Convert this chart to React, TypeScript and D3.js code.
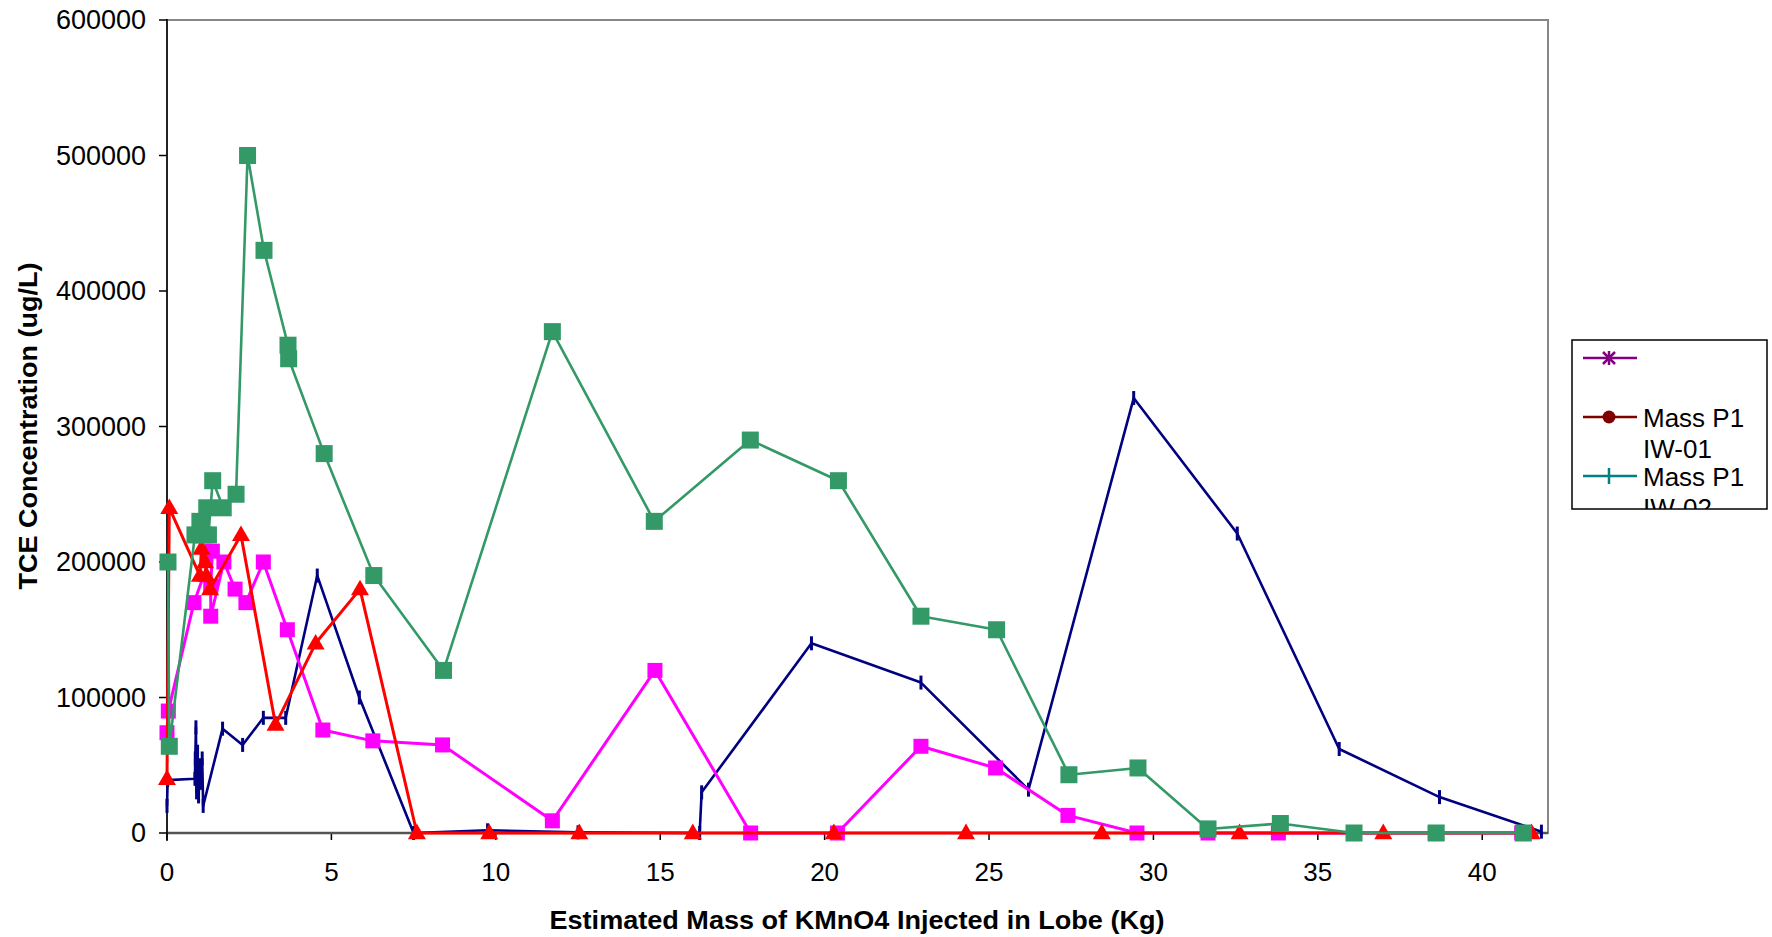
import React from "react";
import * as d3 from "d3";

// ---- data ----
const xTicks = [0, 5, 10, 15, 20, 25, 30, 35, 40];
const yTicks = [0, 100000, 200000, 300000, 400000, 500000, 600000];

const navyX = [0, 0.02, 0.85, 0.86, 0.88, 0.9, 0.93, 0.96, 1.0, 1.04, 1.07, 1.1, 1.69, 2.3, 2.93, 3.61, 4.57, 5.85, 7.5, 9.75, 12.5, 16.2, 16.26, 19.6, 22.93, 26.2, 29.4, 32.55, 35.65, 38.7, 41.8];
const navyY = [20000, 39000, 40000, 55000, 78000, 30000, 60000, 27000, 50000, 37000, 55000, 20000, 77000, 65000, 85000, 85000, 190000, 100000, 0, 2000, 500, 0, 30000, 140000, 111000, 32000, 321000, 221000, 62000, 26500, 1000];

const magX = [0, 0.04, 0.82, 1.38, 1.33, 1.33, 1.73, 2.07, 2.4, 2.93, 3.66, 4.74, 6.26, 8.38, 11.72, 14.84, 17.75, 20.39, 22.93, 25.2, 27.4, 29.5, 31.66, 33.8, 36.1, 38.57, 41.2];
const magY = [74000, 90000, 170000, 208000, 182000, 160000, 200000, 180000, 170000, 200000, 150000, 76000, 68000, 65000, 9000, 120000, 0, 0, 64000, 48000, 13000, 0, 0, 0, 0, 0, 0];

const redX = [0, 0.07, 1.0, 1.05, 1.16, 1.2, 1.31, 2.25, 3.3, 4.52, 5.87, 7.6, 9.8, 12.54, 15.99, 20.28, 24.3, 28.43, 32.62, 36.99, 41.5];
const redY = [40000, 240000, 190000, 210000, 200000, 190000, 180000, 220000, 80000, 140000, 180000, 0, 0, 0, 0, 0, 0, 0, 0, 0, 0];

const greenX = [0.03, 0.07, 0.85, 1.0, 1.1, 1.21, 1.26, 1.39, 1.71, 2.1, 2.45, 2.95, 3.68, 3.7, 4.78, 6.29, 8.41, 11.72, 14.82, 17.74, 20.42, 22.93, 25.23, 27.43, 29.53, 31.66, 33.86, 36.1, 38.6, 41.25];
const greenY = [200000, 64000, 220000, 230000, 220000, 240000, 220000, 260000, 240000, 250000, 500000, 430000, 360000, 350000, 280000, 190000, 120000, 370000, 230000, 290000, 260000, 160000, 150000, 43000, 48000, 3000, 7000, 0, 0, 0];

const legendLabels = ["", "Mass P1 IW-01", "Mass P1 IW-02"];

const FONT = "'Liberation Sans', Arial, Helvetica, sans-serif";

export default function App() {
  const W = 1772, H = 937;
  const left = 167, right = 1548, top = 20, bottom = 833;
  const x = d3.scaleLinear().domain([0, 42]).range([left, right]);
  const y = d3.scaleLinear().domain([0, 600000]).range([bottom, top]);

  const mk = (xs: number[], ys: number[]) => xs.map((v, i) => [v, ys[i]] as [number, number]);
  const line = d3.line<[number, number]>().x(d => x(d[0])).y(d => y(d[1]));

  const navy = mk(navyX, navyY);
  const mag = mk(magX, magY);
  const red = mk(redX, redY);
  const green = mk(greenX, greenY);

  const tri = d3.symbol().type(d3.symbolTriangle).size(140)();

  return (
    <svg width={W} height={H} style={{ position: "absolute", left: 0, top: 0, background: "#fff" }} fontFamily={FONT}>
      <rect x={0} y={0} width={W} height={H} fill="#fff" />
      {/* plot border */}
      <rect x={left} y={top} width={right - left} height={bottom - top} fill="#fff" stroke="#888" strokeWidth={2} />

      {/* y ticks */}
      {yTicks.map(t => (
        <g key={"y" + t}>
          <line x1={left - 8} x2={left} y1={y(t)} y2={y(t)} stroke="#000" strokeWidth={1.5} />
          <text x={146} y={y(t)} dy="0.35em" textAnchor="end" fontSize={27} fill="#000">{t}</text>
        </g>
      ))}
      {/* x ticks */}
      {xTicks.map(t => (
        <g key={"x" + t}>
          <line x1={x(t)} x2={x(t)} y1={bottom} y2={bottom + 7} stroke="#000" strokeWidth={1.5} />
          <text x={x(t)} y={881} textAnchor="middle" fontSize={26} fill="#000">{t}</text>
        </g>
      ))}

      {/* axes */}
      <line x1={left} x2={right} y1={bottom} y2={bottom} stroke="#555" strokeWidth={2.5} />
      <line x1={left} x2={left} y1={top - 1} y2={bottom + 8} stroke="#000" strokeWidth={1.5} />

      {/* navy series */}
      <path d={line(navy) || ""} fill="none" stroke="#000080" strokeWidth={2.6} strokeLinejoin="round" />
      {navy.map((d, i) => (
        <line key={"n" + i} x1={x(d[0])} x2={x(d[0])} y1={y(d[1]) - 7} y2={y(d[1]) + 7} stroke="#000080" strokeWidth={3} />
      ))}

      {/* magenta series */}
      <path d={line(mag) || ""} fill="none" stroke="#FF00FF" strokeWidth={3} strokeLinejoin="round" />
      {mag.map((d, i) => (
        <rect key={"m" + i} x={x(d[0]) - 7.5} y={y(d[1]) - 7.5} width={15} height={15} fill="#FF00FF" />
      ))}

      {/* red series */}
      <path d={line(red) || ""} fill="none" stroke="#FF0000" strokeWidth={3} strokeLinejoin="round" />
      {red.map((d, i) => (
        <path key={"r" + i} d={tri || ""} transform={`translate(${x(d[0])},${y(d[1]) + 1})`} fill="#FF0000" />
      ))}

      {/* green series */}
      <path d={line(green) || ""} fill="none" stroke="#339966" strokeWidth={2.6} strokeLinejoin="round" />
      {green.map((d, i) => (
        <rect key={"g" + i} x={x(d[0]) - 8.5} y={y(d[1]) - 8.5} width={17} height={17} fill="#339966" />
      ))}

      {/* axis titles */}
      <text x={857} y={929} textAnchor="middle" fontSize={25} fontWeight="bold" textLength={615} lengthAdjust="spacingAndGlyphs">Estimated Mass of KMnO4 Injected in Lobe (Kg)</text>
      <text transform="translate(37,426) rotate(-90)" textAnchor="middle" fontSize={25} fontWeight="bold" textLength={327} lengthAdjust="spacingAndGlyphs">TCE Concentration (ug/L)</text>

      {/* legend */}
      <defs>
        <clipPath id="legclip">
          <rect x={1572} y={340} width={195} height={169} />
        </clipPath>
      </defs>
      <rect x={1572} y={340} width={195} height={169} fill="#fff" stroke="#000" strokeWidth={1.5} />
      <g clipPath="url(#legclip)">
        {/* entry 1: purple asterisk */}
        <line x1={1583} x2={1637} y1={358} y2={358} stroke="#800080" strokeWidth={2.5} />
        <g stroke="#800080" strokeWidth={2.5}>
          <line x1={1609} x2={1609} y1={351} y2={365} />
          <line x1={1603} x2={1615} y1={352} y2={364} />
          <line x1={1603} x2={1615} y1={364} y2={352} />
        </g>
        <text x={1643} y={368} fontSize={26}>{legendLabels[0]}</text>
        {/* entry 2: dark red circle */}
        <line x1={1583} x2={1637} y1={417} y2={417} stroke="#800000" strokeWidth={2.5} />
        <circle cx={1609} cy={417} r={6.5} fill="#800000" />
        <text x={1643} y={427} fontSize={26}>Mass P1</text>
        <text x={1643} y={458} fontSize={26}>IW-01</text>
        {/* entry 3: teal plus */}
        <line x1={1583} x2={1637} y1={476} y2={476} stroke="#008080" strokeWidth={2.5} />
        <line x1={1609} x2={1609} y1={468} y2={484} stroke="#008080" strokeWidth={2.5} />
        <text x={1643} y={486} fontSize={26}>Mass P1</text>
        <text x={1643} y={517} fontSize={26}>IW-02</text>
      </g>
    </svg>
  );
}
